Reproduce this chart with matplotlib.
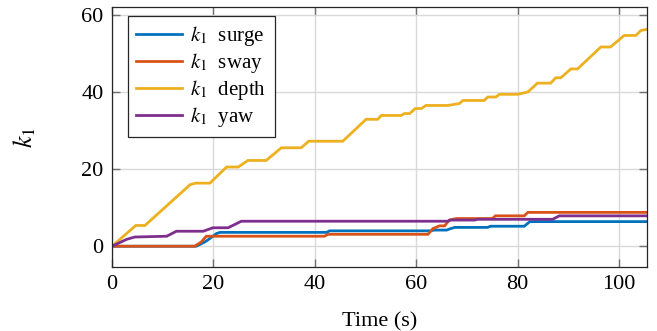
import matplotlib
matplotlib.use("Agg")
import matplotlib.pyplot as plt

# ---- data ----
depth_t = [0, 4.7, 6.5, 15.4, 16.5, 19.3, 22.6, 24.9, 26.8, 30.4, 33.4, 37.3, 38.8, 45.5,
           50.1, 52.4, 53.1, 57.0, 57.7, 58.7, 59.8, 61.0, 61.9, 66.2, 68.5, 69.2, 73.4,
           74.1, 75.7, 76.4, 80.0, 82.0, 83.9, 86.5, 87.5, 88.5, 90.5, 91.8, 96.4, 98.3,
           101.0, 103.3, 104.3, 105.5]
depth_v = [0, 5.4, 5.4, 16.0, 16.4, 16.4, 20.6, 20.6, 22.3, 22.3, 25.6, 25.6, 27.3, 27.3,
           33.0, 33.0, 34.0, 34.0, 34.5, 34.5, 35.8, 35.8, 36.6, 36.6, 37.1, 37.9, 37.9,
           38.8, 38.8, 39.5, 39.5, 40.1, 42.4, 42.4, 43.8, 43.8, 46.1, 46.1, 51.8, 51.8,
           54.8, 54.8, 56.1, 56.4]

yaw_t = [0, 2.9, 4.5, 10.8, 12.7, 18.0, 19.9, 22.9, 25.5, 66.2, 66.8, 71.5, 72.1, 86.9, 88.2, 105.5]
yaw_v = [0, 1.8, 2.4, 2.6, 3.9, 3.9, 4.8, 4.8, 6.5, 6.5, 6.8, 6.8, 7.0, 7.0, 7.9, 7.9]

sway_t = [0, 16.3, 17.6, 18.6, 41.9, 42.6, 62.3, 63.3, 64.6, 65.6, 66.5, 67.9, 75.0, 75.6,
          81.3, 82.0, 105.5]
sway_v = [0, 0, 1.1, 2.6, 2.6, 3.1, 3.1, 4.6, 5.3, 5.3, 6.8, 7.2, 7.2, 7.9, 7.9, 8.8, 8.8]

surge_t = [0, 16.6, 18.3, 19.3, 20.6, 21.3, 42.3, 42.9, 62.9, 63.5, 66.0, 66.6, 67.6, 74.1,
           74.6, 81.3, 82.4, 105.5]
surge_v = [0, 0, 1.1, 2.0, 3.3, 3.6, 3.6, 4.0, 4.0, 4.2, 4.2, 4.5, 4.9, 4.9, 5.2, 5.2, 6.4, 6.4]

labels = [r"$k_1$  surge", r"$k_1$  sway", r"$k_1$  depth", r"$k_1$  yaw"]
colors = ["#0072BD", "#D95319", "#EDB120", "#7E2F8E"]
xticks = [0, 20, 40, 60, 80, 100]
yticks = [0, 20, 40, 60]

plt.rcParams["font.family"] = ["Liberation Serif", "DejaVu Serif"]
plt.rcParams["mathtext.fontset"] = "stix"
plt.rcParams["font.size"] = 16

fig = plt.figure(figsize=(6.57, 3.31), dpi=100)
ax = fig.add_axes([112/657, 1 - 267/331, 535/657, 260/331])

series = [(surge_t, surge_v), (sway_t, sway_v), (depth_t, depth_v), (yaw_t, yaw_v)]
for (t, v), c, lab in zip(series, colors, labels):
    ax.plot(t, v, color=c, lw=2.0, label=lab, solid_joinstyle="miter")

ax.set_xlim(0, 105.5)
ax.set_ylim(-5.4, 62.2)
ax.set_xticks(xticks)
ax.set_yticks(yticks)
ax.grid(True, color="#d9d9d9", lw=1.0)
ax.set_axisbelow(True)
ax.tick_params(direction="in", top=True, right=True, length=6, width=1.0,
               color="#707070", labelsize=16, pad=6)
for s in ax.spines.values():
    s.set_color("#262626")
    s.set_linewidth(0.9)

ax.set_xlabel("Time (s)", fontsize=16, labelpad=13)
ax.set_ylabel(r"$k_1$", fontsize=19, labelpad=31)

leg = ax.legend(loc="upper left", bbox_to_anchor=(16/535, 251/260), borderaxespad=0,
                fancybox=False, framealpha=1, edgecolor="#262626", fontsize=15,
                handlelength=2.2, handletextpad=0.4, labelspacing=0.14, borderpad=0.4)
leg.get_frame().set_linewidth(0.9)

fig.savefig("out.png", dpi=100)
